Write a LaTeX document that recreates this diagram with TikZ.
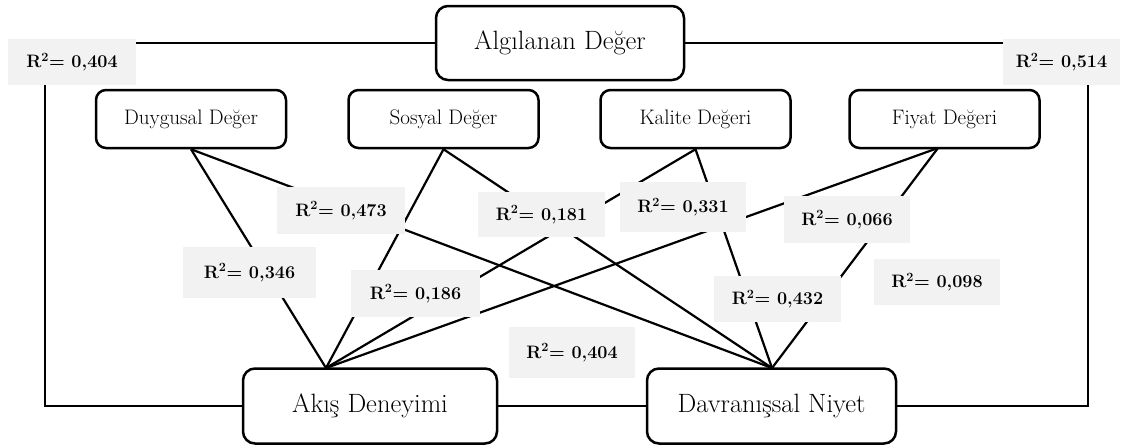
\documentclass[tikz,border=0pt]{standalone}
\usetikzlibrary{calc}
\definecolor{labgray}{HTML}{F2F2F2}
\tikzset{
  bigbox/.style={draw, line width=2.5pt, rounded corners=12pt, fill=white, font=\fontsize{26.5}{30}\selectfont, inner sep=0pt},
  smallbox/.style={draw, line width=2.5pt, rounded corners=10pt, fill=white, font=\fontsize{21}{24}\selectfont, minimum width=190pt, minimum height=58pt, inner sep=0pt},
  rlab/.style={fill=labgray, font=\bfseries\fontsize{18}{22}\selectfont, inner sep=0pt, minimum width=127pt, minimum height=47pt},
  conn/.style={line width=2.2pt}
}
\begin{document}
\begin{tikzpicture}[x=1pt, y=-1pt]
\useasboundingbox (0,0) rectangle (1131,445);
% main boxes
\node[bigbox, minimum width=248pt, minimum height=74pt] (alg) at (560,43) {Algılanan Değer};
\node[smallbox] (duy) at (191,119) {Duygusal Değer};
\node[smallbox] (sos) at (443.5,119) {Sosyal Değer};
\node[smallbox] (kal) at (695.5,119) {Kalite Değeri};
\node[smallbox] (fiy) at (944.5,119) {Fiyat Değeri};
\node[bigbox, minimum width=254pt, minimum height=75pt] (aki) at (370,406) {Akış Deneyimi};
\node[bigbox, minimum width=249pt, minimum height=75pt] (dav) at (771.5,406) {Davranışsal Niyet};
% corner labels
\node[rlab, minimum width=128pt, minimum height=46pt] (r404a) at (72,62) {R\textsuperscript{2}= 0,404};
\node[rlab, minimum width=117pt, minimum height=46pt] (r514) at (1061.5,62) {R\textsuperscript{2}= 0,514};
% frame connectors
\coordinate (lt) at (45,85);
\coordinate (rt) at (1088,85);
\draw[conn] (alg.west) -- (alg.west -| r404a.east);
\draw[conn] (alg.east) -- (alg.east -| r514.west);
\draw[conn] (lt) |- (aki.west);
\draw[conn] (rt) |- (dav.east);
\draw[conn] (aki.east) -- (dav.west);
% convergence points
\coordinate (akin) at (326,368);
\coordinate (davn) at (772,368);
\coordinate (fiys) at (938,148);
\foreach \s in {duy.south, sos.south, kal.south, fiys}{
  \draw[conn] (\s) -- (akin);
  \draw[conn] (\s) -- (davn);
}
% path labels
\node[rlab, minimum width=128pt] (r473) at (341,210.5) {R\textsuperscript{2}= 0,473};
\node[rlab, minimum height=45pt] (r181) at (541.5,214.5) {R\textsuperscript{2}= 0,181};
\node[rlab, minimum width=126pt, minimum height=50pt] (r331) at (683,207) {R\textsuperscript{2}= 0,331};
\node[rlab, minimum width=126pt] (r066) at (847,219.5) {R\textsuperscript{2}= 0,066};
\node[rlab, minimum width=133pt, minimum height=51pt] (r346) at (249.5,272.5) {R\textsuperscript{2}= 0,346};
\node[rlab, minimum width=129pt] (r186) at (415.5,293.5) {R\textsuperscript{2}= 0,186};
\node[rlab, minimum width=126pt, minimum height=51pt] (r404b) at (572,352.5) {R\textsuperscript{2}= 0,404};
\node[rlab, minimum height=46pt] (r432) at (777.5,299) {R\textsuperscript{2}= 0,432};
\node[rlab, minimum width=126pt, minimum height=46pt] (r098) at (937,282) {R\textsuperscript{2}= 0,098};
\end{tikzpicture}
\end{document}
